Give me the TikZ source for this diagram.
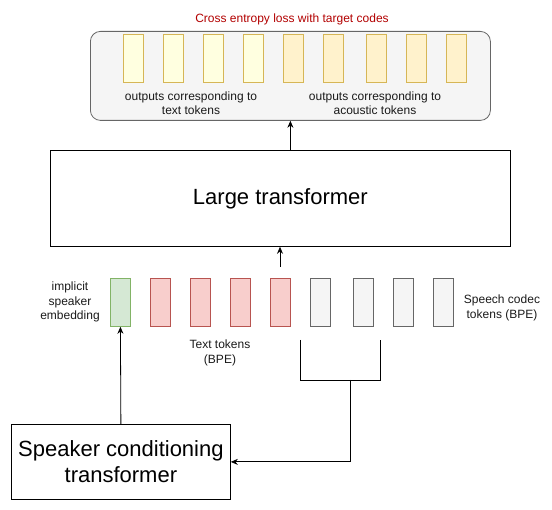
\documentclass[tikz,border=0pt]{standalone}
\usepackage{fontspec}
\setmainfont{Liberation Sans}
\usetikzlibrary{arrows.meta}
\definecolor{boxgray}{HTML}{F5F5F5}
\definecolor{edgegray}{HTML}{666666}
\definecolor{yelA}{HTML}{FFFFE0}
\definecolor{yelB}{HTML}{FFF2CC}
\definecolor{yelEdge}{HTML}{D6B656}
\definecolor{redF}{HTML}{F8CECC}
\definecolor{redE}{HTML}{B85450}
\definecolor{grnF}{HTML}{D5E8D4}
\definecolor{grnE}{HTML}{82B366}
\definecolor{titlered}{HTML}{B20000}
\definecolor{txt}{HTML}{1A1A1A}
\begin{document}
\begin{tikzpicture}[x=1pt,y=-1pt,
  tok/.style={draw, line width=0.8pt, minimum width=20pt, minimum height=48pt, inner sep=0pt, anchor=north west},
  ytokA/.style={tok, fill=yelA, draw=yelEdge},
  ytokB/.style={tok, fill=yelB, draw=yelEdge},
  rtok/.style={tok, fill=redF, draw=redE},
  gtok/.style={tok, fill=grnF, draw=grnE},
  stok/.style={tok, fill=boxgray, draw=edgegray},
  bigbox/.style={draw, line width=0.8pt, inner sep=0pt, anchor=north west, font=\fontsize{22}{26}\selectfont, align=center},
  lbl/.style={font=\fontsize{12}{14.5}\selectfont, text=txt, align=center, inner sep=0pt},
  arr/.style={line width=0.8pt, -{Stealth[length=7pt,width=6pt]}},
  ln/.style={line width=0.8pt}
]
\useasboundingbox (0,0) rectangle (552,510);

% output box
\node[draw=edgegray, fill=boxgray, line width=0.8pt, rounded corners=10pt, minimum width=400pt, minimum height=89pt, inner sep=0pt, anchor=north west] (out) at (90,31) {};
\node[lbl, text=titlered] (title) at (292,19) {Cross entropy loss with target codes};
\node[ytokA] (o1) at (123,34) {};
\node[ytokA] (o2) at (163,34) {};
\node[ytokA] (o3) at (203,34) {};
\node[ytokA] (o4) at (243,34) {};
\node[ytokB] (o5) at (283,34) {};
\node[ytokB] (o6) at (323,34) {};
\node[ytokB] (o7) at (366,34) {};
\node[ytokB] (o8) at (406,34) {};
\node[ytokB] (o9) at (446,34) {};
\node[lbl] (otext) at (191,103) {outputs corresponding to\\text tokens};
\node[lbl] (oacou) at (375,103) {outputs corresponding to\\acoustic tokens};

% large transformer
\node[bigbox, minimum width=460pt, minimum height=96pt] (lt) at (50,150) {Large transformer};

% input tokens
\node[gtok] (g1) at (110,278) {};
\node[rtok] (r1) at (150,278) {};
\node[rtok] (r2) at (190,278) {};
\node[rtok] (r3) at (230,278) {};
\node[rtok] (r4) at (270,278) {};
\node[stok] (s1) at (310,278) {};
\node[stok] (s2) at (353,278) {};
\node[stok] (s3) at (393,278) {};
\node[stok] (s4) at (433,278) {};
\node[lbl] (impl) at (70,302) {implicit\\speaker\\embedding};
\node[lbl] (speech) at (502,308) {Speech codec\\tokens (BPE)};
\node[lbl] (texttok) at (220,353) {Text tokens\\(BPE)};

% speaker conditioning transformer
\node[bigbox, minimum width=219pt, minimum height=75pt] (spk) at (11,424) {Speaker conditioning\\transformer};

% connectors
\coordinate (tokin) at (280,267);
\draw[arr] (tokin) -- (lt.south -| tokin);
\draw[arr] (out.south |- lt.north) -- (out.south);
\draw[arr] (spk.north) -- (g1.south);
\coordinate (ba) at (300,340);
\coordinate (bb) at (380,340);
\coordinate (bm) at (350,380);
\draw[ln] (ba) -- (300,380) -- (380,380) -- (bb);
\draw[arr] (bm) |- (spk.east);
\end{tikzpicture}
\end{document}
